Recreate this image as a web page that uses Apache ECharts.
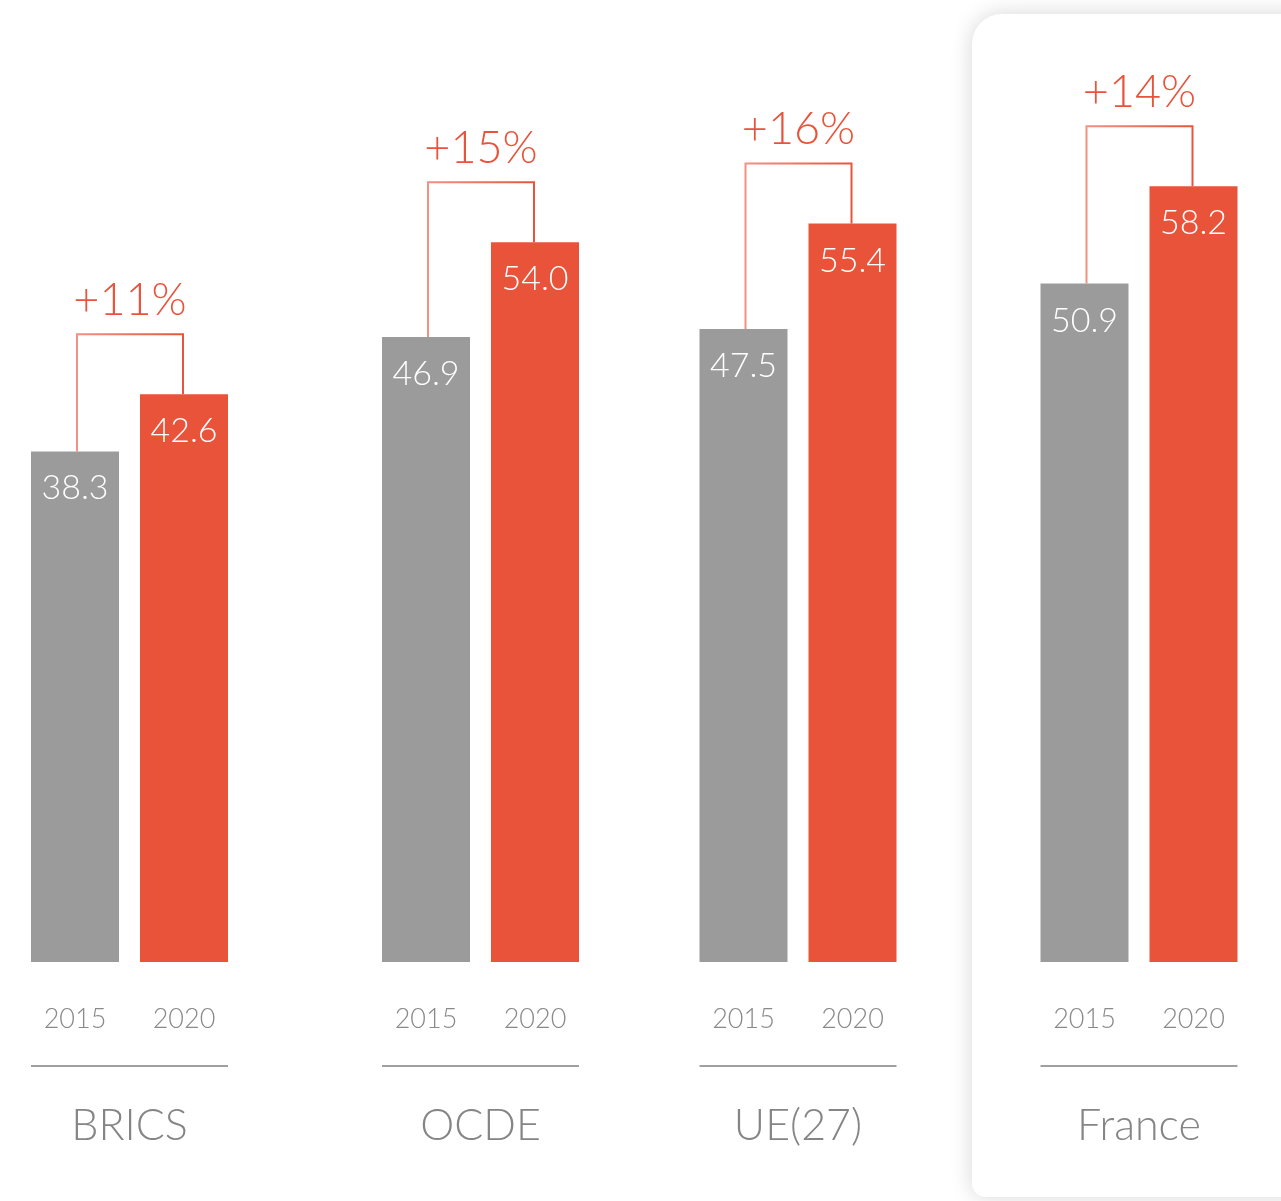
<!DOCTYPE html>
<html>

<head>
    <meta charset="utf-8">
    <script src="https://cdn.jsdelivr.net/npm/echarts@6/dist/echarts.min.js"></script>
    <style>
        html,
        body {
            margin: 0;
            padding: 0;
            background: #ffffff;
        }

        #graph {
            width: 1281px;
            height: 1201px;
        }
    </style>
</head>

<body>
    <div id="graph"></div>
    <script>
        // data
        var groups = ['BRICS', 'OCDE', 'UE(27)', 'France'];
        var years = ['2015', '2020'];
        var values2015 = [38.3, 46.9, 47.5, 50.9];
        var values2020 = [42.6, 54.0, 55.4, 58.2];
        var changes = ['+11%', '+15%', '+16%', '+14%'];

        // layout
        var centers = [129.5, 480.5, 798, 1139];
        var gridW = 218;
        var grey = '#9b9b9b';
        var red = '#e8533a';
        var font = 'Lato';

        var grids = [], xAxes = [], yAxes = [], series = [], graphic = [];

        // France card
        graphic.push({
            type: 'rect',
            z: -10,
            shape: { x: 972, y: 14, width: 400, height: 1183, r: [30, 0, 0, 14] },
            style: {
                fill: '#ffffff',
                shadowBlur: 22,
                shadowColor: 'rgba(0,0,0,0.16)',
                shadowOffsetX: 0,
                shadowOffsetY: 0
            }
        });

        groups.forEach(function (name, i) {
            var cx = centers[i];
            grids.push({ left: cx - gridW / 2, width: gridW, top: 29, bottom: 239 });
            xAxes.push({
                type: 'category',
                gridIndex: i,
                data: years,
                axisLine: { show: false },
                axisTick: { show: false },
                axisLabel: { margin: 44, color: '#8a8a8a', fontSize: 27, fontFamily: font, fontWeight: 300 },
                name: name,
                nameLocation: 'middle',
                nameGap: 143,
                nameTextStyle: { color: '#858585', fontSize: 43, fontFamily: font, fontWeight: 300 }
            });
            yAxes.push({
                type: 'value',
                gridIndex: i,
                min: 0,
                max: 70,
                show: false
            });
            series.push({
                type: 'bar',
                xAxisIndex: i,
                yAxisIndex: i,
                barWidth: 88,
                z: 2,
                data: [
                    { value: values2015[i], itemStyle: { color: grey } },
                    { value: values2020[i], itemStyle: { color: red } }
                ],
                label: {
                    show: true,
                    position: 'insideTop',
                    distance: 20,
                    color: '#ffffff',
                    fontSize: 34,
                    fontFamily: font,
                    fontWeight: 300,
                    formatter: function (p) { return p.value.toFixed(1); }
                }
            });
            series.push({
                type: 'custom',
                xAxisIndex: i,
                yAxisIndex: i,
                z: 3,
                data: [[values2015[i], values2020[i]]],
                renderItem: function (params, api) {
                    var a = api.value(0), b = api.value(1);
                    var top = Math.max(a, b) + 4.5;
                    var p0 = api.coord([0, a]), p0t = api.coord([0, top]);
                    var p1 = api.coord([1, b]), p1t = api.coord([1, top]);
                    var x0 = p0[0] + 2, x1 = p1[0] - 1;
                    return {
                        type: 'group',
                        children: [
                            {
                                type: 'polyline',
                                shape: { points: [[x0, p0[1]], [x0, p0t[1]], [x1, p1t[1]], [x1, p1[1]]] },
                                style: {
                                    fill: null,
                                    lineWidth: 2,
                                    stroke: {
                                        type: 'linear', x: 0, y: 0, x2: 1, y2: 0,
                                        colorStops: [{ offset: 0, color: '#f29383' }, { offset: 1, color: red }]
                                    }
                                }
                            },
                            {
                                type: 'text',
                                style: {
                                    text: changes[params.seriesIndex / 2 | 0],
                                    x: (x0 + x1) / 2,
                                    y: p0t[1] - 34,
                                    align: 'center',
                                    verticalAlign: 'middle',
                                    fill: red,
                                    fontSize: 45,
                                    fontFamily: font,
                                    fontWeight: 300
                                }
                            }
                        ]
                    };
                }
            });
            graphic.push({
                type: 'line',
                z: 5,
                shape: { x1: cx - 98.5, y1: 1066, x2: cx + 98.5, y2: 1066 },
                style: { stroke: '#a0a0a0', lineWidth: 2 }
            });
        });

        var chart = echarts.init(document.getElementById('graph'));
        chart.setOption({
            animation: false,
            grid: grids,
            xAxis: xAxes,
            yAxis: yAxes,
            series: series,
            graphic: graphic
        });
    </script>
</body>

</html>
